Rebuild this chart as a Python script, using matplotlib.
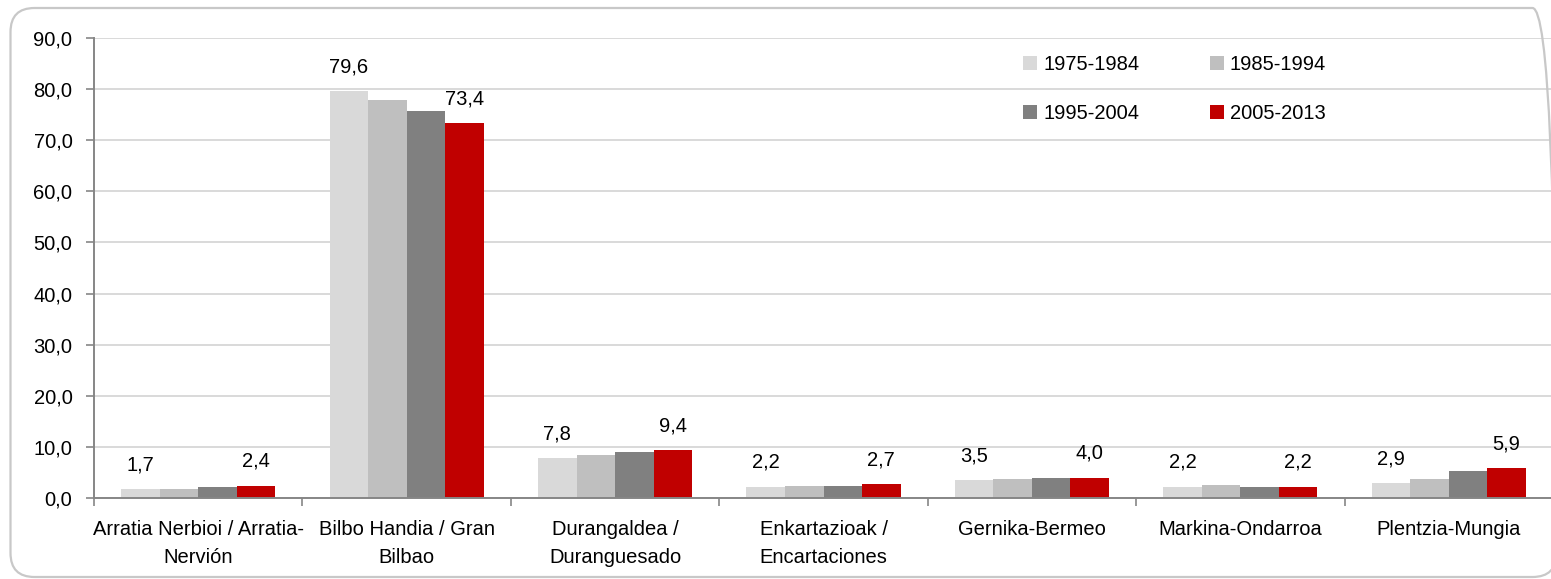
import matplotlib
matplotlib.use("Agg")
import matplotlib.pyplot as plt
import numpy as np
from matplotlib.patches import FancyBboxPatch
from matplotlib.transforms import IdentityTransform
from matplotlib.ticker import FuncFormatter, FixedLocator

plt.rcParams['font.family'] = ['Liberation Sans', 'DejaVu Sans']
FS = 14.5

categories = ["Arratia Nerbioi / Arratia-\nNervión", "Bilbo Handia / Gran\nBilbao",
              "Durangaldea /\nDuranguesado", "Enkartazioak /\nEncartaciones",
              "Gernika-Bermeo", "Markina-Ondarroa", "Plentzia-Mungia"]
series_names = ["1975-1984", "1985-1994", "1995-2004", "2005-2013"]
s1975 = [1.7, 79.6, 7.8, 2.2, 3.5, 2.2, 2.9]
s1985 = [1.8, 77.9, 8.5, 2.4, 3.7, 2.5, 3.8]
s1995 = [2.1, 75.8, 9.0, 2.4, 3.9, 2.2, 5.2]
s2005 = [2.4, 73.4, 9.4, 2.7, 4.0, 2.2, 5.9]
series = [s1975, s1985, s1995, s2005]
colors = ["#D9D9D9", "#BFBFBF", "#808080", "#C00000"]
labelled = [0, 3]

W, H = 1551, 579
fig = plt.figure(figsize=(W / 100, H / 100), dpi=100)
ax_left, ax_right, ax_top, ax_bot = 94, 1553, 38, 498
ax = fig.add_axes([ax_left / W, 1 - ax_bot / H, (ax_right - ax_left) / W, (ax_bot - ax_top) / H])

x = np.arange(len(categories))
bw = 0.185
bars = []
for i, (vals, c, name) in enumerate(zip(series, colors, series_names)):
    b = ax.bar(x + (i - 1.5) * bw, vals, bw, color=c, label=name, zorder=3, linewidth=0)
    bars.append(b)
    if i in labelled:
        for xi, v in zip(x, vals):
            ax.annotate(f"{v:.1f}".replace(".", ","), (xi + (i - 1.5) * bw, v),
                        xytext=(0, 17.5), textcoords="offset points",
                        ha="center", va="center", fontsize=FS, color="#000000")

ax.set_xlim(-0.5, len(categories) - 0.5)
ax.set_ylim(0, 90)
ax.yaxis.set_major_locator(FixedLocator(np.arange(0, 91, 10)))
ax.yaxis.set_major_formatter(FuncFormatter(lambda v, p: f"{v:.1f}".replace(".", ",")))
ax.grid(axis="y", color="#D9D9D9", linewidth=1.4, zorder=0)
ax.set_axisbelow(True)

ax.set_xticks(x)
ax.set_xticklabels(categories, fontsize=FS, linespacing=1.6)
ax.set_xticks(np.arange(-0.5, len(categories) + 0.5, 1), minor=True)
ax.tick_params(axis="x", which="major", length=0, pad=16)
ax.tick_params(axis="x", which="minor", length=5.5, width=1.2, color="#868686")
ax.tick_params(axis="y", which="major", length=5.5, width=1.2, color="#868686", labelsize=FS, pad=10)

for s in ["top", "right"]:
    ax.spines[s].set_visible(False)
for s in ["left", "bottom"]:
    ax.spines[s].set_color("#868686")
    ax.spines[s].set_linewidth(1.4)
    ax.spines[s].set_zorder(4)

handles = [bars[0], bars[2], bars[1], bars[3]]
labels = [series_names[0], series_names[2], series_names[1], series_names[3]]
leg = fig.legend(handles, labels, ncol=2, loc="upper left",
                 bbox_to_anchor=(1023 / W, 1 - 55 / H), frameon=False, fontsize=FS,
                 handlelength=0.7, handleheight=0.7, handletextpad=0.3,
                 columnspacing=3.5, labelspacing=1.5, borderpad=0, borderaxespad=0)

border = FancyBboxPatch((10.5, 2), 1546, 569, boxstyle="round,pad=0,rounding_size=24",
                        transform=IdentityTransform(), facecolor="none",
                        edgecolor="#C8C8C8", linewidth=1.6, zorder=10)
fig.add_artist(border)

fig.savefig("out.png", dpi=100)
